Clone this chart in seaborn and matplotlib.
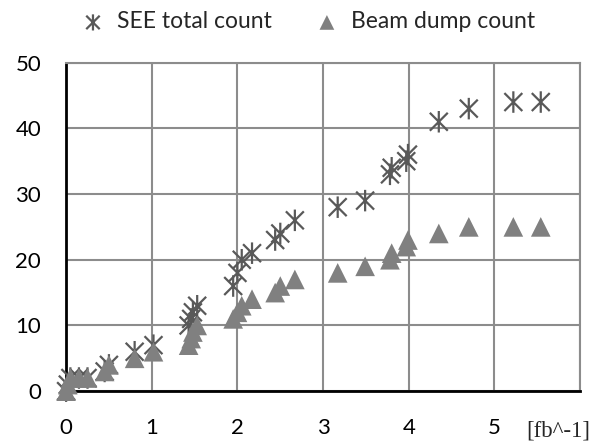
"""SEE and beam dump counts vs integrated luminosity"""
import matplotlib
matplotlib.use('Agg')
import matplotlib.pyplot as plt
from matplotlib.path import Path
import pandas as pd
import seaborn as sns

lumi = [0.0, 0.02, 0.05, 0.15, 0.25, 0.45, 0.5, 0.8, 1.02, 1.43,
        1.46, 1.48, 1.53, 1.95, 2.0, 2.05, 2.17, 2.44, 2.5, 2.67,
        3.17, 3.49, 3.78, 3.8, 3.97, 3.99, 4.35, 4.70, 5.22, 5.54]
see_count = [0, 1, 2, 2, 2, 3, 4, 6, 7, 10,
             11, 12, 13, 16, 18, 20, 21, 23, 24, 26,
             28, 29, 33, 34, 35, 36, 41, 43, 44, 44]
dump_count = [0, 1, 2, 2, 2, 3, 4, 5, 6, 7,
              8, 9, 10, 11, 12, 13, 14, 15, 16, 17,
              18, 19, 20, 21, 22, 23, 24, 25, 25, 25]
x_ticks = [0, 1, 2, 3, 4, 5]
y_ticks = [0, 10, 20, 30, 40, 50]

df = pd.DataFrame({'lumi': lumi, 'see': see_count, 'dump': dump_count})

sns.set_style("white")
plt.rcParams['font.family'] = ['Lato', 'DejaVu Sans']

# Excel-like asterisk: an X with a vertical bar through it
star = Path([(-1, -1), (1, 1), (-1, 1), (1, -1), (0, -1.2), (0, 1.2)],
            [Path.MOVETO, Path.LINETO, Path.MOVETO, Path.LINETO, Path.MOVETO, Path.LINETO])

fig = plt.figure(figsize=(6.12, 4.41), dpi=100)
ax = fig.add_axes([0.108, 0.113, 0.840, 0.745])

sns.scatterplot(data=df, x='lumi', y='see', marker=star, s=240, color='none',
                edgecolor='#595959', linewidth=1.6, ax=ax, clip_on=False,
                label='SEE total count', zorder=3)
sns.scatterplot(data=df, x='lumi', y='dump', marker='^', s=200, color='#808080',
                edgecolor='none', linewidth=0, ax=ax, clip_on=False,
                label='Beam dump count', zorder=4)

ax.set_xlim(0, 6)
ax.set_ylim(0, 50)
ax.set_xticks([0, 1, 2, 3, 4, 5, 6])
ax.set_xticklabels([str(t) for t in x_ticks] + [''])
ax.set_yticks(y_ticks)
ax.tick_params(length=0, labelsize=16, colors='black')
ax.tick_params(axis='x', pad=19)
ax.tick_params(axis='y', pad=18)
ax.grid(True, color='#8c8c8c', linewidth=1.5)
ax.set_axisbelow(True)
for side in ('top', 'right'):
    ax.spines[side].set_color('#8c8c8c')
    ax.spines[side].set_linewidth(1.5)
for side in ('left', 'bottom'):
    ax.spines[side].set_color('black')
    ax.spines[side].set_linewidth(2)
ax.set(xlabel='', ylabel='')

ax.text(5.74, -6.1, '[fb^-1]', ha='center', va='center', fontsize=16.5,
        family=['Liberation Serif', 'DejaVu Serif'], transform=ax.transData)

ax.legend(loc='lower center', bbox_to_anchor=(0.46, 1.05), ncol=2, frameon=False,
          fontsize=16.5, handletextpad=0.05, columnspacing=1.4, markerscale=0.75,
          borderaxespad=0.2)

plt.savefig('out.png', dpi=100)
plt.close()
